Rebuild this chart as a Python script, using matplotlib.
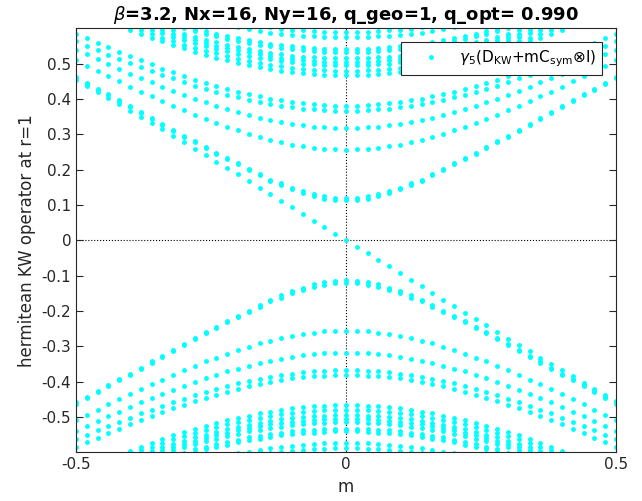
import matplotlib
matplotlib.use("Agg")
import matplotlib.pyplot as plt
import numpy as np

# mass grid, m >= 0 half (the spectrum is mirrored to m < 0)
m_half = [0.00, 0.02, 0.04, 0.06, 0.08, 0.10, 0.12, 0.14, 0.16, 0.18, 0.20, 0.22, 0.24,
          0.26, 0.28, 0.30, 0.32, 0.34, 0.36, 0.38, 0.40, 0.42, 0.44, 0.46, 0.48, 0.50]

# positive eigenvalue bands (even in m, lower half is the negative)
band_1a = [0.121, 0.121, 0.126, 0.132, 0.140, 0.149, 0.162, 0.172, 0.188, 0.202, 0.218, 0.232, 0.248,
           0.263, 0.280, 0.296, 0.313, 0.330, 0.346, 0.363, 0.380, 0.396, 0.413, 0.429, 0.446, 0.462]
band_1b = [0.113, 0.114, 0.118, 0.124, 0.134, 0.144, 0.156, 0.168, 0.184, 0.199, 0.215, 0.229, 0.245,
           0.260, 0.277, 0.293, 0.310, 0.327, 0.343, 0.360, 0.377, 0.393, 0.410, 0.426, 0.443, 0.459]
band_2 = [0.256, 0.257, 0.258, 0.261, 0.266, 0.271, 0.277, 0.284, 0.292, 0.301, 0.311, 0.321, 0.332,
          0.343, 0.355, 0.368, 0.381, 0.394, 0.407, 0.421, 0.435, 0.450, 0.464, 0.479, 0.494, 0.509]
band_3 = [0.318, 0.318, 0.320, 0.322, 0.326, 0.330, 0.335, 0.341, 0.347, 0.355, 0.363, 0.371, 0.381,
          0.391, 0.401, 0.412, 0.423, 0.435, 0.447, 0.459, 0.472, 0.485, 0.498, 0.512, 0.526, 0.540]
band_4a = [0.367, 0.367, 0.369, 0.371, 0.373, 0.377, 0.381, 0.386, 0.392, 0.398, 0.405, 0.412, 0.420,
           0.429, 0.438, 0.448, 0.458, 0.468, 0.479, 0.490, 0.502, 0.513, 0.525, 0.538, 0.550, 0.563]
band_4b = [0.381, 0.381, 0.383, 0.385, 0.388, 0.391, 0.396, 0.401, 0.407, 0.413, 0.421, 0.428, 0.437,
           0.446, 0.455, 0.465, 0.476, 0.486, 0.498, 0.509, 0.521, 0.533, 0.546, 0.559, 0.572, 0.585]
top_1 = [0.467, 0.467, 0.469, 0.470, 0.473, 0.476, 0.480, 0.485, 0.490, 0.496, 0.502, 0.509, 0.517,
         0.525, 0.534, 0.543, 0.552, 0.563, 0.573, 0.584, 0.595, 0.607, 0.619, 0.631, 0.643, 0.656]
top_2 = [0.480, 0.480, 0.481, 0.483, 0.486, 0.489, 0.493, 0.497, 0.502, 0.508, 0.514, 0.521, 0.529,
         0.537, 0.545, 0.554, 0.563, 0.573, 0.584, 0.594, 0.605, 0.617, 0.629, 0.641, 0.653, 0.666]
top_3 = [0.495, 0.495, 0.496, 0.498, 0.500, 0.504, 0.507, 0.512, 0.517, 0.522, 0.528, 0.535, 0.542,
         0.550, 0.558, 0.567, 0.576, 0.586, 0.596, 0.606, 0.617, 0.628, 0.640, 0.652, 0.664, 0.676]
top_4 = [0.505, 0.505, 0.506, 0.508, 0.510, 0.513, 0.517, 0.521, 0.526, 0.532, 0.538, 0.544, 0.551,
         0.559, 0.567, 0.576, 0.585, 0.594, 0.604, 0.615, 0.625, 0.636, 0.648, 0.660, 0.671, 0.684]
top_5 = [0.515, 0.515, 0.516, 0.518, 0.520, 0.523, 0.527, 0.531, 0.536, 0.541, 0.547, 0.554, 0.561,
         0.568, 0.576, 0.585, 0.594, 0.603, 0.613, 0.623, 0.633, 0.644, 0.656, 0.667, 0.679, 0.691]
top_6 = [0.533, 0.533, 0.534, 0.536, 0.538, 0.541, 0.544, 0.549, 0.553, 0.558, 0.564, 0.570, 0.577,
         0.585, 0.592, 0.601, 0.609, 0.618, 0.628, 0.638, 0.648, 0.659, 0.670, 0.681, 0.693, 0.705]
top_7 = [0.541, 0.541, 0.542, 0.544, 0.546, 0.549, 0.552, 0.556, 0.561, 0.566, 0.572, 0.578, 0.585,
         0.592, 0.599, 0.608, 0.616, 0.625, 0.635, 0.645, 0.655, 0.665, 0.676, 0.688, 0.699, 0.711]
top_8 = [0.574, 0.574, 0.575, 0.577, 0.579, 0.581, 0.585, 0.588, 0.593, 0.598, 0.603, 0.609, 0.615,
         0.622, 0.629, 0.637, 0.645, 0.654, 0.663, 0.673, 0.682, 0.692, 0.703, 0.714, 0.725, 0.736]
top_9 = [0.589, 0.589, 0.590, 0.592, 0.594, 0.596, 0.599, 0.603, 0.607, 0.612, 0.617, 0.623, 0.629,
         0.636, 0.643, 0.651, 0.659, 0.667, 0.676, 0.685, 0.695, 0.705, 0.715, 0.726, 0.737, 0.748]

# the crossing (zero) mode for m >= 0, odd in m
cross_mode = [0.000, -0.018, -0.037, -0.055, -0.074, -0.093, -0.112, -0.130, -0.149, -0.168, -0.187, -0.205, -0.223,
              -0.241, -0.259, -0.278, -0.296, -0.314, -0.332, -0.350, -0.367, -0.385, -0.403, -0.420, -0.438, -0.455]

bands = [band_1a, band_1b, band_2, band_3, band_4a, band_4b,
         top_1, top_2, top_3, top_4, top_5, top_6, top_7, top_8, top_9]

m_half = np.array(m_half)
m_full = np.concatenate([-m_half[::-1], m_half[1:]])


def mirror_even(v):
    v = np.array(v)
    return np.concatenate([v[::-1], v[1:]])


def mirror_odd(v):
    v = np.array(v)
    return np.concatenate([-v[::-1], v[1:]])


xs = []
ys = []
for b in bands:
    full = mirror_even(b)
    xs += [m_full, m_full]
    ys += [full, -full]
xs.append(m_full)
ys.append(mirror_odd(cross_mode))
xs = np.concatenate(xs)
ys = np.concatenate(ys)

fig = plt.figure(figsize=(6.42, 5.01), dpi=100)
ax = fig.add_axes([0.1184, 0.0972, 0.8411, 0.8463])

ax.plot(xs, ys, '.', color=(0, 1, 1), ms=5, linestyle='none',
        label=r'$\gamma_5$(D$_{\rm KW}$+mC$_{\rm sym}$$\otimes$I)')
ax.axhline(0, color='k', ls=':', lw=0.8, zorder=0)
ax.axvline(0, color='k', ls=':', lw=0.8, zorder=0)

ax.set_xlim(-0.5, 0.5)
ax.set_ylim(-0.6, 0.6)
ax.set_xticks([-0.5, 0, 0.5])
ax.set_xticklabels(['-0.5', '0', '0.5'])
yt = [-0.5, -0.4, -0.3, -0.2, -0.1, 0, 0.1, 0.2, 0.3, 0.4, 0.5]
ax.set_yticks(yt)
ax.set_yticklabels(['-0.5', '-0.4', '-0.3', '-0.2', '-0.1', '0', '0.1', '0.2', '0.3', '0.4', '0.5'])
ax.tick_params(direction='in', top=True, right=True, labelsize=11, colors='#262626', length=5)
for s in ax.spines.values():
    s.set_color('#262626')
    s.set_linewidth(0.8)

ax.set_xlabel('m', fontsize=12, color='#262626')
ax.set_ylabel('hermitean KW operator at r=1', fontsize=12, color='#262626')
ax.set_title(r'$\beta$=3.2, Nx=16, Ny=16, q_geo=1, q_opt= 0.990', fontsize=13, fontweight='bold')

leg = ax.legend(loc='upper right', fontsize=11, fancybox=False, framealpha=1,
                edgecolor='#262626', borderaxespad=0.9, handlelength=3.1,
                handletextpad=0.3, markerscale=1)
leg.get_frame().set_linewidth(0.8)

fig.savefig('out.png', dpi=100)
